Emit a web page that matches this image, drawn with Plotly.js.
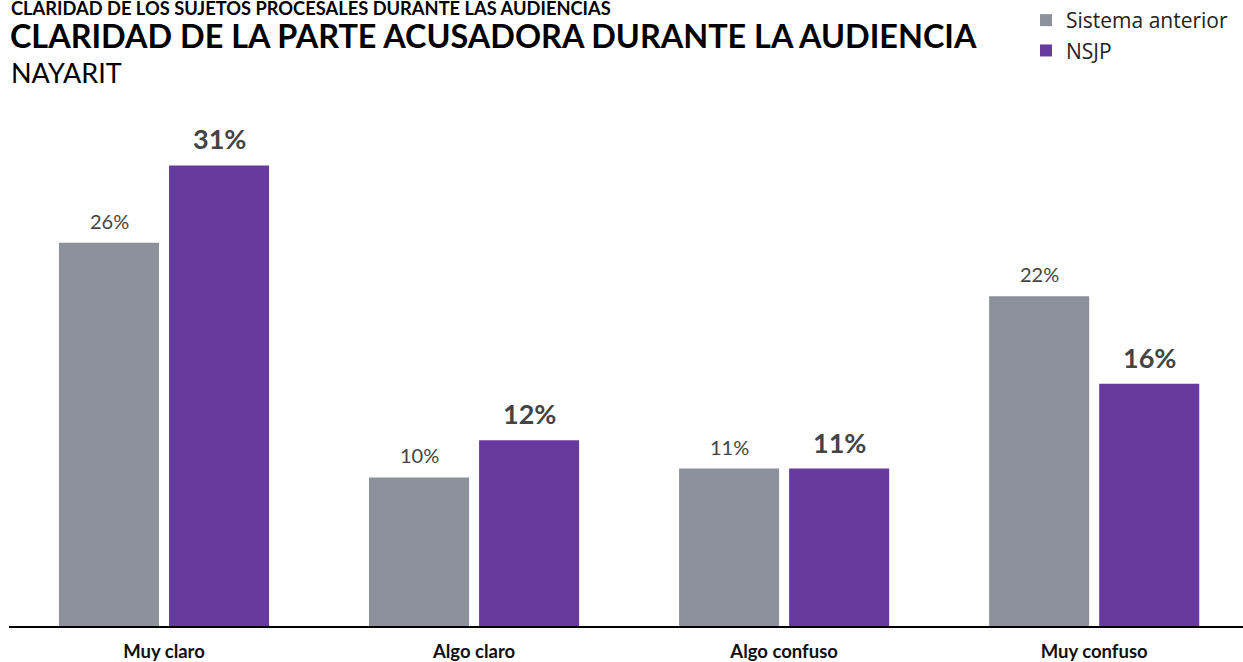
<!DOCTYPE html>
<html>
<head>
<meta charset="utf-8">
<script src="https://cdn.plot.ly/plotly-3.0.1.min.js"></script>
<style>html,body{margin:0;padding:0;background:#fff;}#chart{width:1243px;height:662px;}</style>
</head>
<body>
<div id="chart"></div>
<script>
var categories = ["Muy claro", "Algo claro", "Algo confuso", "Muy confuso"];
var seriesNames = ["Sistema anterior", "NSJP"];
var anterior = [25.8, 10.0, 10.6, 22.2];
var nsjp = [31.0, 12.5, 10.6, 16.3];
var anteriorLabels = ["26%", "10%", "11%", "22%"];
var nsjpLabels = ["31%", "12%", "11%", "16%"];

var gray = "#8d919c";
var purple = "#673a9f";
var FONT = "Lato, 'Open Sans', sans-serif";

var traces = [
  {type: "bar", name: seriesNames[0], x: categories, y: anterior,
   marker: {color: gray}, hoverinfo: "x+y"},
  {type: "bar", name: seriesNames[1], x: categories, y: nsjp,
   marker: {color: purple}, hoverinfo: "x+y"}
];

var annotations = [];
categories.forEach(function (c, i) {
  annotations.push({x: c, y: anterior[i], xref: "x", yref: "y", text: anteriorLabels[i],
    showarrow: false, xshift: -55, yanchor: "bottom", yshift: 8,
    font: {family: FONT, size: 20, color: "#444"}});
  annotations.push({x: c, y: nsjp[i], xref: "x", yref: "y", text: "<b>" + nsjpLabels[i] + "</b>",
    showarrow: false, xshift: 55, yanchor: "bottom", yshift: 8,
    font: {family: FONT, size: 27, color: "#444"}});
});
annotations.push({xref: "paper", yref: "paper", x: 0, y: 1.199, xanchor: "left", yanchor: "top",
  text: "<b>CLARIDAD DE LOS SUJETOS PROCESALES DURANTE LAS AUDIENCIAS</b>", showarrow: false,
  font: {family: FONT, size: 18.3, color: "#000"}});
annotations.push({xref: "paper", yref: "paper", x: 0, y: 1.0875, xanchor: "left", yanchor: "top",
  text: "NAYARIT", showarrow: false, font: {family: FONT, size: 27, color: "#000"}});

var layout = {
  width: 1243, height: 662,
  paper_bgcolor: "#fff", plot_bgcolor: "#fff",
  margin: {l: 9, r: 0, t: 100, b: 36, autoexpand: false},
  title: {text: "<b>CLARIDAD DE LA PARTE ACUSADORA DURANTE LA AUDIENCIA</b>",
    font: {family: FONT, size: 32.4, color: "#000"},
    xref: "container", yref: "container", x: 0.008, xanchor: "left", y: 0.962, yanchor: "top"},
  barmode: "group", bargap: 0.29, bargroupgap: 0.0909,
  xaxis: {type: "category", range: [-0.5, 3.48], showgrid: false, zeroline: false,
    showline: true, linecolor: "#000", linewidth: 1.5, ticks: "", ticklabelstandoff: 8,
    tickfont: {family: FONT, size: 18.5, color: "#111", weight: "bold"}, fixedrange: true},
  yaxis: {range: [0, 35.4], visible: false, showgrid: false, zeroline: false, fixedrange: true},
  showlegend: true,
  legend: {xref: "container", yref: "container", x: 0.8254, xanchor: "left", y: 1.0, yanchor: "top",
    orientation: "v", font: {family: "'Open Sans', sans-serif", size: 21, color: "#222"},
    bgcolor: "rgba(0,0,0,0)", itemwidth: 30, tracegroupgap: 0},
  annotations: annotations
};

Plotly.newPlot("chart", traces, layout, {displayModeBar: false, staticPlot: false});
</script>
</body>
</html>
